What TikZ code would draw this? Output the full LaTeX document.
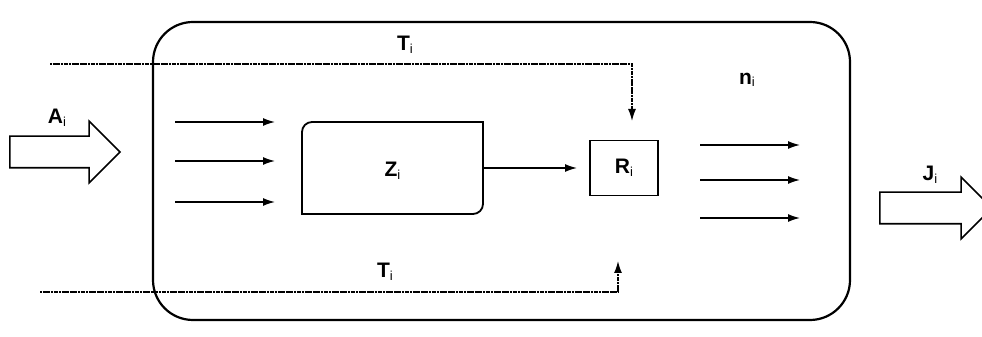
\documentclass[tikz,border=0pt]{standalone}
\usepackage{fontspec}
\setmainfont{Liberation Sans}
\usetikzlibrary{shapes}
\usetikzlibrary{positioning}
\usetikzlibrary{arrows.meta}
\newcommand{\Lab}[1]{\textbf{#1}{\fontsize{13}{13}\selectfont\raisebox{-2.5pt}{i}}}

\begin{document}
\begin{tikzpicture}[x=1pt,y=1pt]
  \tikzset{FrameStyle/.style = {
    shape         = rectangle,
    draw          = black,
    line width    = 2.2pt,
    rounded corners = 40pt,
    minimum width = 697pt,
    minimum height= 298pt,
    inner sep     = 0pt
    }
  }
  \tikzset{BoxStyle/.style = {
    shape         = rectangle,
    draw          = black,
    line width    = 1.8pt,
    inner sep     = 0pt,
    outer sep     = 0pt
    }
  }
  \tikzset{BlockArrow/.style = {
    shape         = single arrow,
    draw          = black,
    line width    = 1.6pt,
    fill          = white,
    inner sep     = 0pt,
    single arrow head extend = 15pt
    }
  }
  \tikzset{ArrowStyle/.style = {
    draw          = black,
    line width    = 1.4pt,
    -{Latex[length=12pt,width=8pt]}
    }
  }
  \tikzset{TimeStyle/.style = {
    draw          = black,
    line width    = 1.4pt,
    dash pattern  = on 2.2pt off 0.5pt,
    -{Latex[length=12pt,width=8pt]}
    }
  }
  \tikzset{LabelStyle/.style = {
    font          = \fontsize{21}{23}\selectfont,
    inner sep     = 0pt
    }
  }

  \useasboundingbox (0,0) rectangle (982,337);

  % system boundary
  \node[FrameStyle](Frame) at (501.5,166) {};

  % inner blocks
  \node[BoxStyle, draw=none, minimum width=181pt, minimum height=92pt](Z) at (392.5,169) {};
  \draw[line width=1.8pt] (Z.south west) -- ([yshift=-10pt]Z.north west)
    arc[start angle=180, end angle=90, radius=10pt] -- (Z.north east)
    -- ([yshift=10pt]Z.south east)
    arc[start angle=0, end angle=-90, radius=10pt] -- cycle;
  \node[LabelStyle] at ([yshift=-3pt]Z.center) {\Lab{Z}};
  \node[BoxStyle, minimum width=68pt, minimum height=55pt, font=\fontsize{21}{23}\selectfont](R) at (624,169) {\Lab{R}};
  \draw[ArrowStyle, shorten >=13pt](Z) -- (R);

  % inputs to Z
  \coordinate (I1s) at (175,215); \coordinate (I1e) at (275,215);
  \coordinate (I2s) at (175,176); \coordinate (I2e) at (275,176);
  \coordinate (I3s) at (175,135); \coordinate (I3e) at (275,135);
  \draw[ArrowStyle](I1s) -- (I1e);
  \draw[ArrowStyle](I2s) -- (I2e);
  \draw[ArrowStyle](I3s) -- (I3e);

  % outputs of R
  \coordinate (O1s) at (700,192); \coordinate (O1e) at (800,192);
  \coordinate (O2s) at (700,157); \coordinate (O2e) at (800,157);
  \coordinate (O3s) at (700,119); \coordinate (O3e) at (800,119);
  \draw[ArrowStyle](O1s) -- (O1e);
  \draw[ArrowStyle](O2s) -- (O2e);
  \draw[ArrowStyle](O3s) -- (O3e);

  % time lines
  \coordinate (T1s) at (50,273); \coordinate (T1c) at (632,273); \coordinate (T1e) at (632,216);
  \coordinate (T2s) at (40,45);  \coordinate (T2c) at (618,45);  \coordinate (T2e) at (618,76);
  \draw[TimeStyle](T1s) -- (T1c) -- (T1e);
  \draw[TimeStyle](T2s) -- (T2c) -- (T2e);
  \node[LabelStyle](Ttop) at (405,292) {\Lab{T}};
  \node[LabelStyle](Tbot) at (385,65) {\Lab{T}};
  \node[LabelStyle](n) at (747,257) {\Lab{n}};

  % input and output
  \node[BlockArrow, minimum height=110pt](A) at (57,185) {\rule{0pt}{30pt}};
  \node[LabelStyle](Alab) at (57,219) {\Lab{A}};
  \node[BlockArrow, minimum height=112pt](J) at (928,129) {\rule{0pt}{30pt}};
  \node[LabelStyle](Jlab) at (930,162) {\Lab{J}};
\end{tikzpicture}
\end{document}
